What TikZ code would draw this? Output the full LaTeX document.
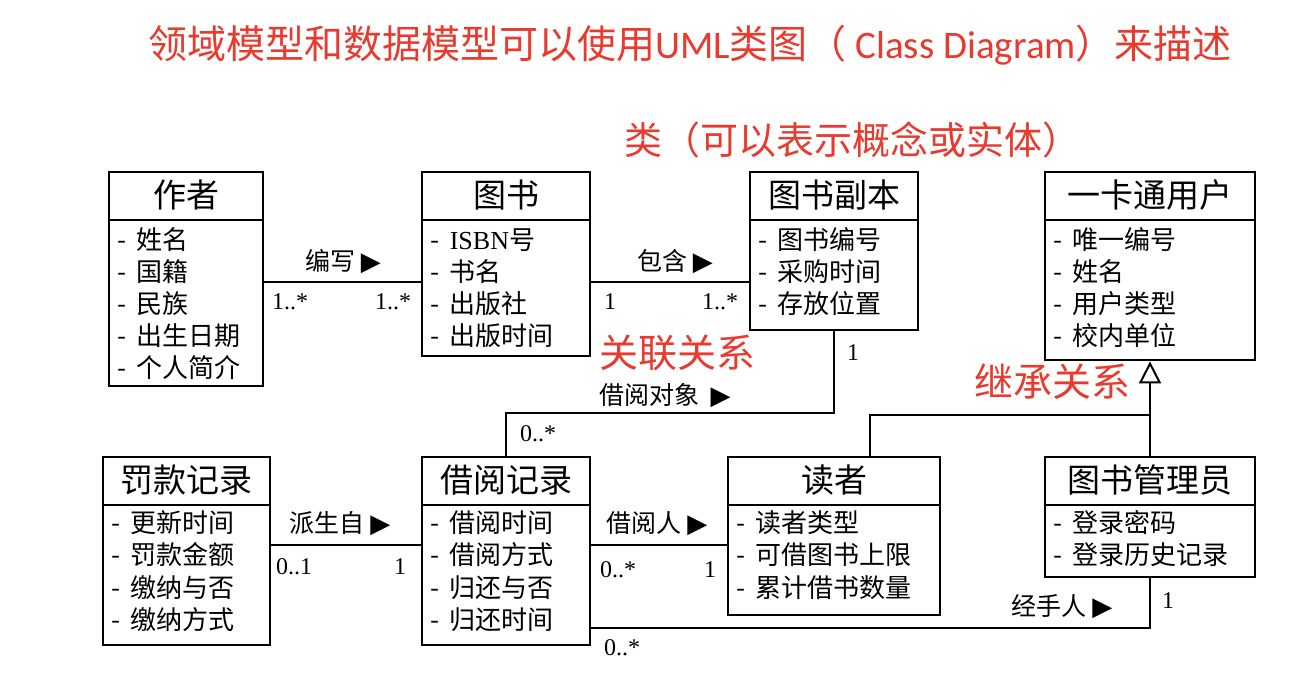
\documentclass[tikz,border=0pt]{standalone}
\usepackage{fontspec}
\setmainfont{Liberation Serif}
\newfontfamily\cjk{Noto Sans CJK SC}
\newfontfamily\calfont{Carlito}
\newfontfamily\dvfont{DejaVu Sans}
\usetikzlibrary{arrows.meta,fit,calc}
\definecolor{redtxt}{HTML}{E83A2E}
\newcommand\tri{{\dvfont\fontsize{26}{26}\selectfont ▶}}
\tikzset{
  clsbox/.style={draw, line width=2.8pt, inner sep=0pt},
  clsline/.style={line width=2.8pt},
  conn/.style={line width=2.8pt},
  clstitle/.style={font=\cjk\fontsize{33}{33}\selectfont, inner sep=0pt},
  attr/.style={font=\cjk\fontsize{26}{26}\selectfont, anchor=west, inner sep=0pt},
  lab/.style={font=\cjk\fontsize{25}{25}\selectfont, inner sep=0pt},
  mult/.style={font=\fontsize{24}{24}\selectfont, inner sep=0pt},
  redlab/.style={text=redtxt, font=\cjk\fontsize{39}{39}\selectfont, inner sep=0pt},
}
\newcommand\umlbox[7]{%
  \node[clsbox, fit={(#2,#3) (#4,#5)}] (#1) {};
  \draw[clsline] (#1.west |- 0,#6) -- (#1.east |- 0,#6);
  \node[clstitle] (#1-t) at ($(#1.north)!0.5!(#1.north |- 0,#6)$) {#7};
}
\newcommand\dash{-\hspace{10pt}}
\begin{document}
\begin{tikzpicture}[x=1pt,y=-1pt]
\useasboundingbox[fill=white] (0,0) rectangle (1316,676);

% titles
\node[redlab, font=\cjk\fontsize{39}{39}\selectfont] (title) at (690,45)
  {领域模型和数据模型可以使用{\calfont UML}类图（ {\calfont Class Diagram}）来描述};
\node[redlab, font=\cjk\fontsize{38}{38}\selectfont] (classnote) at (852,140) {类（可以表示概念或实体）};
\node[redlab] (assocnote) at (677,353) {关联关系};
\node[redlab] (inhnote) at (1052,382) {继承关系};

% classes
\umlbox{author}{109}{172}{263}{386}{220}{作者}
\foreach \t [count=\i] in {姓名,国籍,民族,出生日期,个人简介}
  \node[attr] (author-a\i) at ([xshift=10pt]author.west |- 0,208+32*\i) {\dash\t};

\umlbox{book}{422}{172}{590}{356}{220}{图书}
\foreach \t [count=\i] in {{\rmfamily ISBN}号,书名,出版社,出版时间}
  \node[attr] (book-a\i) at ([xshift=10pt]book.west |- 0,208+32*\i) {\dash\t};

\umlbox{copy}{750}{172}{918}{330}{220}{图书副本}
\foreach \t [count=\i] in {图书编号,采购时间,存放位置}
  \node[attr] (copy-a\i) at ([xshift=10pt]copy.west |- 0,208+32*\i) {\dash\t};

\umlbox{card}{1045}{172}{1255}{360}{220}{一卡通用户}
\foreach \t [count=\i] in {唯一编号,姓名,用户类型,校内单位}
  \node[attr] (card-a\i) at ([xshift=10pt]card.west |- 0,208+32*\i) {\dash\t};

\umlbox{fine}{103}{457}{270}{645}{505}{罚款记录}
\foreach \t [count=\i] in {更新时间,罚款金额,缴纳与否,缴纳方式}
  \node[attr] (fine-a\i) at ([xshift=10pt]fine.west |- 0,490+32.5*\i) {\dash\t};

\umlbox{borrow}{422}{457}{590}{645}{505}{借阅记录}
\foreach \t [count=\i] in {借阅时间,借阅方式,归还与否,归还时间}
  \node[attr] (borrow-a\i) at ([xshift=10pt]borrow.west |- 0,490+32.5*\i) {\dash\t};

\umlbox{reader}{728}{457}{940}{615}{505}{读者}
\foreach \t [count=\i] in {读者类型,可借图书上限,累计借书数量}
  \node[attr] (reader-a\i) at ([xshift=10pt]reader.west |- 0,490+32.5*\i) {\dash\t};

\umlbox{lib}{1045}{457}{1255}{577}{505}{图书管理员}
\foreach \t [count=\i] in {登录密码,登录历史记录}
  \node[attr] (lib-a\i) at ([xshift=10pt]lib.west |- 0,490+32.5*\i) {\dash\t};

% associations
\draw[conn] (author.east |- 0,282) -- (book.west |- 0,282);
\node[lab] (l1) at (343,262) {编写\ \tri};
\node[mult] (m1) at (290,302) {1..*};
\node[mult] (m2) at (393,302) {1..*};

\draw[conn] (book.east |- 0,282) -- (copy.west |- 0,282);
\node[lab] (l2) at (675,262) {包含\ \tri};
\node[mult] (m3) at (610,302) {1};
\node[mult] (m4) at (720,302) {1..*};

\draw[conn] (copy.south) -- (copy.south |- 0,413) -| (borrow.north);
\node[lab] (l3) at (665,396) {借阅对象\ \ \tri};
\node[mult] (m5) at (853,353) {1};
\node[mult] (m6) at (538,434) {0..*};

\draw[conn] (fine.east |- 0,545) -- (borrow.west |- 0,545);
\node[lab] (l4) at (340,524) {派生自\ \tri};
\node[mult] (m7) at (294,567) {0..1};
\node[mult] (m8) at (400,567) {1};

\draw[conn] (borrow.east |- 0,545) -- (reader.west |- 0,545);
\node[lab] (l5) at (657,524) {借阅人\ \tri};
\node[mult] (m9) at (618,570) {0..*};
\node[mult] (m10) at (710,570) {1};

\draw[conn] (borrow.east |- 0,628) -| (lib.south);
\node[lab] (l6) at (1062,607) {经手人\ \tri};
\node[mult] (m11) at (1168,601) {1};
\node[mult] (m12) at (622,648) {0..*};

% inheritance
\draw[conn, -{Triangle[open, length=22pt, width=22pt, line width=2pt]}] (lib.north) -- (card.south);
\draw[conn] (reader.north -| 870,0) |- (lib.north |- 0,415);
\end{tikzpicture}
\end{document}
